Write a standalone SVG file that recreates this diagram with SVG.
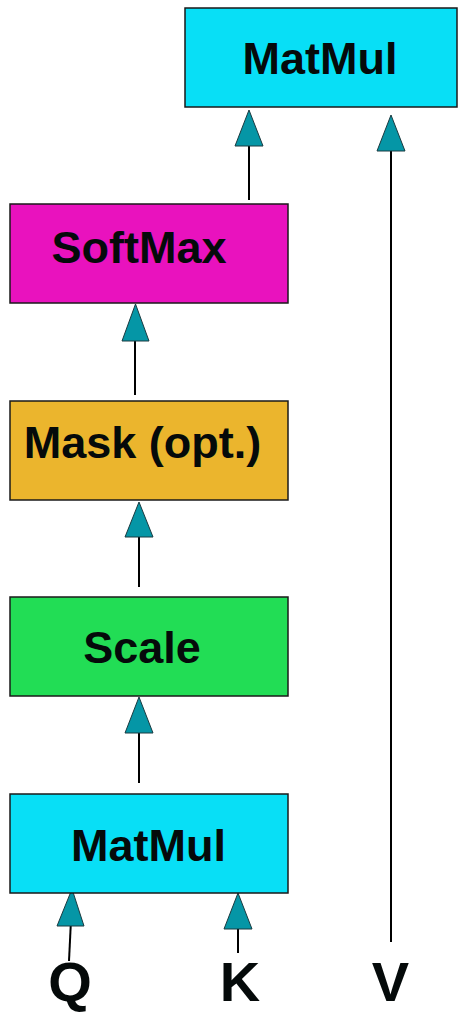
<svg xmlns="http://www.w3.org/2000/svg" width="458" height="1013" viewBox="0 0 458 1013">
  <style>
    .box { stroke: #1a1a1a; stroke-width: 1.5; }
    .lbl { font-family: "Liberation Sans", Arial, sans-serif; font-weight: bold; font-size: 45px; fill: #050a0a; text-anchor: middle; }
    .io { font-family: "Liberation Sans", Arial, sans-serif; font-weight: bold; font-size: 56px; fill: #050a0a; text-anchor: middle; }
    .wire { stroke: #000; stroke-width: 2; fill: none; }
    .head { fill: #0596a6; stroke: #1a3a40; stroke-width: 1; stroke-linejoin: miter; }
  </style>

  <rect width="458" height="1013" fill="#ffffff"/>

  <!-- connectors: a line plus a triangular head pointing up into the box above -->
  <g id="connectors">
    <!-- MatMul(Q,K) -> Scale -->
    <line class="wire" x1="139" y1="733" x2="139" y2="783"/>
    <polygon class="head" points="139,697 125,733 153,733"/>
    <!-- Scale -> Mask -->
    <line class="wire" x1="139" y1="537" x2="139" y2="587"/>
    <polygon class="head" points="139,502 125,537 153,537"/>
    <!-- Mask -> SoftMax -->
    <line class="wire" x1="135" y1="341" x2="135" y2="395"/>
    <polygon class="head" points="135.5,304 122,341 149,341"/>
    <!-- SoftMax -> MatMul -->
    <line class="wire" x1="249" y1="146" x2="249" y2="200"/>
    <polygon class="head" points="249,110 235,146 263,146"/>
    <!-- V -> MatMul -->
    <line class="wire" x1="391" y1="151" x2="391" y2="942"/>
    <polygon class="head" points="391,115 377,151 405,151"/>
    <!-- Q -> MatMul -->
    <line class="wire" x1="70.7" y1="926" x2="69" y2="961"/>
    <polygon class="head" points="72,889 57,926 84,926"/>
    <!-- K -> MatMul -->
    <line class="wire" x1="238" y1="929" x2="238" y2="953"/>
    <polygon class="head" points="238,893 224,929 252,929"/>
  </g>

  <g id="matmul-out">
    <rect class="box" x="185" y="8" width="272" height="99" fill="#08dff6"/>
    <text class="lbl" x="320" y="74">MatMul</text>
  </g>

  <g id="softmax">
    <rect class="box" x="10" y="204" width="278" height="99" fill="#e912be"/>
    <text class="lbl" x="139" y="263">SoftMax</text>
  </g>

  <g id="mask">
    <rect class="box" x="10" y="401" width="278" height="99" fill="#ebb52d"/>
    <text class="lbl" x="142.5" y="458">Mask (opt.)</text>
  </g>

  <g id="scale">
    <rect class="box" x="10" y="597" width="278" height="99" fill="#22dd55"/>
    <text class="lbl" x="142" y="663">Scale</text>
  </g>

  <g id="matmul-qk">
    <rect class="box" x="10" y="794" width="278" height="99" fill="#08dff6"/>
    <text class="lbl" x="148.5" y="861">MatMul</text>
  </g>

  <g id="input-q"><text class="io" x="70" y="1001">Q</text></g>
  <g id="input-k"><text class="io" x="240" y="1001">K</text></g>
  <g id="input-v"><text class="io" x="390.5" y="1001">V</text></g>
</svg>
